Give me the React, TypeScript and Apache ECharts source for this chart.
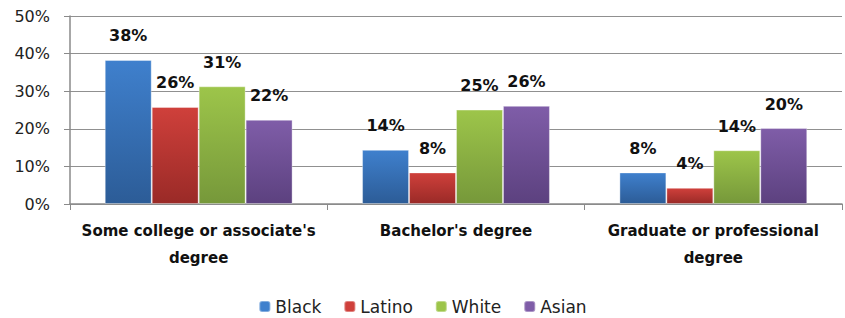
import React, { useEffect, useRef } from "react";
import * as echarts from "echarts";

const categories = ["Some college or associate's\ndegree", "Bachelor's degree", "Graduate or professional\ndegree"];
const seriesNames = ["Black", "Latino", "White", "Asian"];
const black = [38.3, 14.4, 8.4];
const latino = [25.8, 8.4, 4.3];
const white = [31.3, 25.1, 14.3];
const asian = [22.4, 26.1, 20.2];
const yTicks = [0, 10, 20, 30, 40, 50];

const colors: [string, string][] = [
  ["#3f80cd", "#2c5c97"],
  ["#cf403b", "#9a2a27"],
  ["#9dc54a", "#76983a"],
  ["#7f5da8", "#5c417f"],
];

export default function App() {
  const ref = useRef<HTMLDivElement>(null);
  useEffect(() => {
    const chart = echarts.init(ref.current!, null, { renderer: "svg" });
    const data = [black, latino, white, asian];
    const font = "'DejaVu Sans', sans-serif";
    chart.setOption({
      animation: false,
      textStyle: { fontFamily: font },
      grid: { left: 70, right: 3, top: 16, bottom: 114 },
      legend: {
        bottom: -2,
        left: "center",
        itemWidth: 11,
        itemHeight: 11,
        itemGap: 22,
        textStyle: { fontSize: 17, color: "#222", fontFamily: font },
        data: seriesNames.map((n, i) => ({ name: n, itemStyle: { color: colors[i][0] } })),
      },
      xAxis: {
        type: "category",
        data: categories,
        axisLine: { lineStyle: { color: "#8a8a8a", width: 1.5 } },
        axisTick: { show: true, length: 6, lineStyle: { color: "#8a8a8a" } },
        axisLabel: {
          interval: 0,
          hideOverlap: false,
          fontSize: 15,
          fontWeight: "bold",
          color: "#111",
          lineHeight: 27,
          margin: 13,
          fontFamily: font,
        },
      },
      yAxis: {
        type: "value",
        min: 0,
        max: 50,
        interval: 10,
        axisLine: { show: true, lineStyle: { color: "#8a8a8a", width: 1.5 } },
        axisTick: { show: true, length: 6, lineStyle: { color: "#8a8a8a" } },
        splitLine: { lineStyle: { color: "#909090", width: 1.2 } },
        axisLabel: {
          fontSize: 16,
          color: "#222",
          margin: 20,
          fontFamily: font,
          formatter: (v: number) => (yTicks.includes(v) ? v + "%" : ""),
        },
      },
      series: data.map((d, i) => ({
        name: seriesNames[i],
        type: "bar",
        data: d,
        barGap: "0%",
        barCategoryGap: "27%",
        itemStyle: {
          color: new echarts.graphic.LinearGradient(0, 0, 0, 1, [
            { offset: 0, color: colors[i][0] },
            { offset: 1, color: colors[i][1] },
          ]),
          borderColor: "rgba(255,255,255,0.35)",
          borderWidth: 1,
        },
        label: {
          show: true,
          position: "top",
          distance: 16,
          fontSize: 16,
          fontWeight: "bold",
          color: "#111",
          fontFamily: font,
          formatter: (p: any) => Math.round(p.value) + "%",
        },
      })),
    });
    return () => chart.dispose();
  }, []);
  return <div ref={ref} style={{ position: "absolute", left: 0, top: 0, width: 845, height: 318 }} />;
}
